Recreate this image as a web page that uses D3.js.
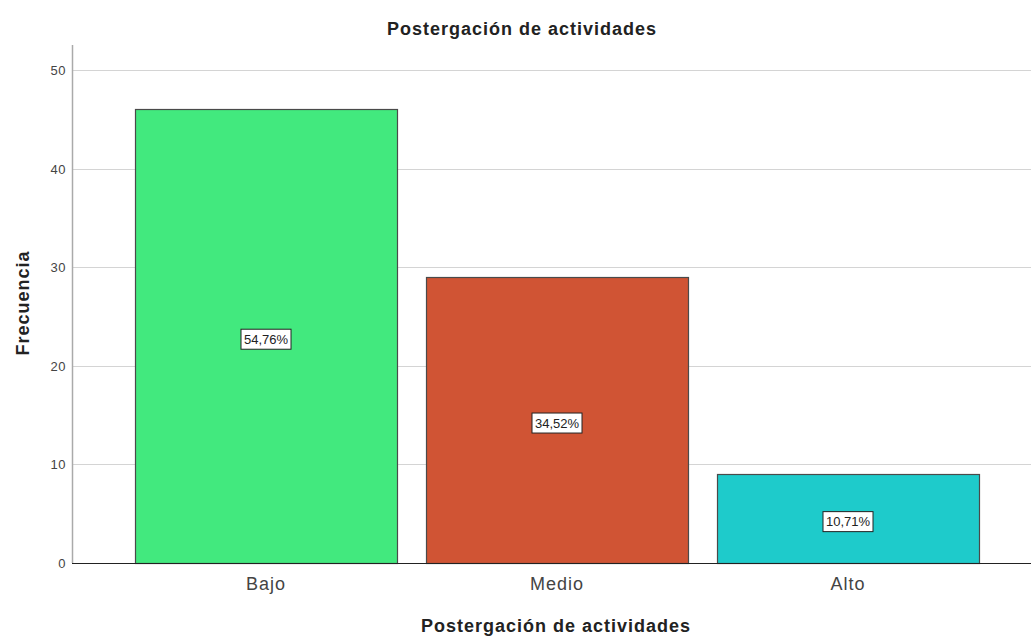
<!DOCTYPE html>
<style>
    body { margin: 0; background: #fff; font-family: 'Liberation Sans', Arial, sans-serif; }
</style>
<svg width="1031" height="637"></svg>
<script src="https://d3js.org/d3.v7.min.js"></script>
<script>
    // data
    var categories = ["Bajo", "Medio", "Alto"];
    var counts = [46, 29, 9];
    var percentLabels = ["54,76%", "34,52%", "10,71%"];
    var colors = ["#42E97E", "#D05434", "#1ECBCB"];
    var yTicks = [0, 10, 20, 30, 40, 50];

    var svg = d3.select("svg");

    var axisLeftX = 72, plotRight = 1031, plotTop = 45, plotBottom = 563;

    var x = d3.scaleBand()
        .domain(categories)
        .range([120.5, 993.5])
        .paddingInner(0.1)
        .paddingOuter(0.05);

    var y = d3.scaleLinear()
        .domain([0, 50])
        .range([plotBottom, 70]);

    // gridlines
    svg.append("g")
        .selectAll("line")
        .data(yTicks.slice(1))
        .enter().append("line")
        .attr("x1", axisLeftX)
        .attr("x2", plotRight)
        .attr("y1", function (d) { return Math.round(y(d)) + 0.5; })
        .attr("y2", function (d) { return Math.round(y(d)) + 0.5; })
        .attr("stroke", "#d4d4d4")
        .attr("stroke-width", 1);

    // bars
    svg.append("g")
        .selectAll("rect")
        .data(categories)
        .enter().append("rect")
        .attr("x", function (d) { return Math.round(x(d)) + 0.5; })
        .attr("y", function (d, i) { return Math.round(y(counts[i])) + 0.5; })
        .attr("width", Math.round(x.bandwidth()))
        .attr("height", function (d, i) { return Math.round(y(0)) - Math.round(y(counts[i])); })
        .attr("fill", function (d, i) { return colors[i]; })
        .attr("stroke", "#4a4a4a")
        .attr("stroke-width", 1.2);

    // y axis
    svg.append("line")
        .attr("x1", axisLeftX + 0.5).attr("x2", axisLeftX + 0.5)
        .attr("y1", plotTop).attr("y2", plotBottom)
        .attr("stroke", "#aaaaaa").attr("stroke-width", 1.5);

    svg.append("g")
        .selectAll("text")
        .data(yTicks)
        .enter().append("text")
        .attr("x", axisLeftX - 6)
        .attr("y", function (d) { return y(d); })
        .attr("dy", "0.38em")
        .attr("text-anchor", "end")
        .attr("font-size", 13)
        .attr("letter-spacing", 0.5)
        .attr("fill", "#444")
        .text(function (d) { return d; });

    // x axis baseline
    svg.append("line")
        .attr("x1", axisLeftX).attr("x2", plotRight)
        .attr("y1", plotBottom + 0.5).attr("y2", plotBottom + 0.5)
        .attr("stroke", "#222").attr("stroke-width", 1);

    svg.append("g")
        .selectAll("text")
        .data(categories)
        .enter().append("text")
        .attr("x", function (d) { return x(d) + x.bandwidth() / 2; })
        .attr("y", plotBottom + 27)
        .attr("text-anchor", "middle")
        .attr("font-size", 18)
        .attr("letter-spacing", 1)
        .attr("fill", "#444")
        .text(function (d) { return d; });

    // percentage labels
    var lab = svg.append("g")
        .selectAll("g")
        .data(categories)
        .enter().append("g")
        .attr("transform", function (d, i) {
            var cx = x(d) + x.bandwidth() / 2;
            var cy = (y(counts[i]) + y(0)) / 2 + 3;
            return "translate(" + cx + "," + cy + ")";
        });

    lab.append("rect")
        .attr("x", -25).attr("y", -10)
        .attr("width", 50).attr("height", 20)
        .attr("fill", "#fff")
        .attr("stroke", "#222").attr("stroke-width", 1);

    lab.append("text")
        .attr("text-anchor", "middle")
        .attr("dy", "0.36em")
        .attr("font-size", 13)
        .attr("fill", "#222")
        .text(function (d, i) { return percentLabels[i]; });

    // title
    svg.append("text")
        .attr("x", 522).attr("y", 35)
        .attr("text-anchor", "middle")
        .attr("font-size", 18).attr("font-weight", "bold")
        .attr("letter-spacing", 1)
        .attr("fill", "#222")
        .text("Postergación de actividades");

    // axis titles
    svg.append("text")
        .attr("x", 556).attr("y", 632)
        .attr("text-anchor", "middle")
        .attr("font-size", 18).attr("font-weight", "bold")
        .attr("letter-spacing", 1)
        .attr("fill", "#222")
        .text("Postergación de actividades");

    svg.append("text")
        .attr("transform", "translate(29,303) rotate(-90)")
        .attr("text-anchor", "middle")
        .attr("font-size", 18).attr("font-weight", "bold")
        .attr("letter-spacing", 1)
        .attr("fill", "#222")
        .text("Frecuencia");
</script>
